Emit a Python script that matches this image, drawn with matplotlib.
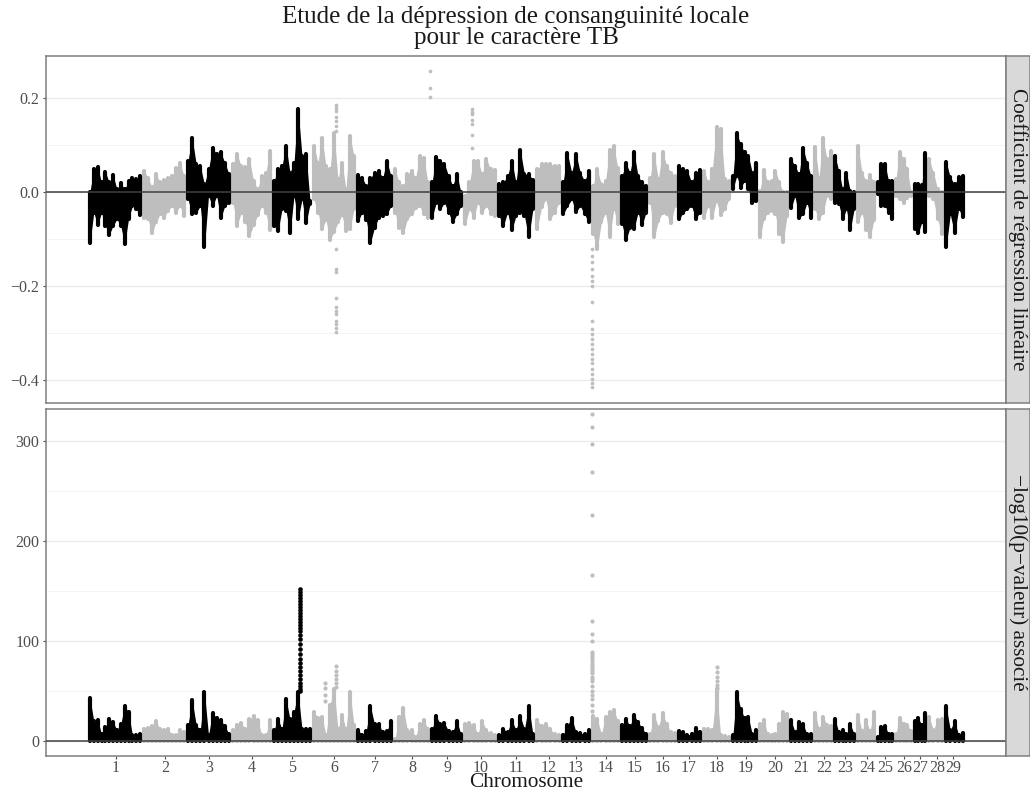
import matplotlib
matplotlib.use('Agg')
import matplotlib.pyplot as plt
import numpy as np

plt.rcParams['font.family'] = ['Liberation Serif', 'DejaVu Serif']

# chromosome limits along the genome axis (cumulative position)
chrom_edges = [0, 54, 98, 143, 184, 224, 268, 305, 342, 375, 409, 447, 473, 503, 532,
               560, 589, 614, 643, 670, 701, 725, 745, 768, 788, 806, 825, 839, 856, 877]
tick_pos = [28, 77, 121, 164, 204, 246, 287, 324, 359, 393, 428, 461, 488, 518, 547,
            575, 601, 629, 658, 687, 713, 736, 757, 779, 797, 816, 832, 849, 865]
tick_labels = [str(i) for i in range(1, 30)]

# upper and lower edge of the cloud of points, read along each chromosome
coef_hi = [
    [.000, .048, .052, .020, .043, .020, .035, .006, .018, .006, .023, .030, .028, .034],
    [.045, .030, .010, .038, .020, .025, .030, .034, .050, .062, .034],
    [.066, .115, .059, .055, .016, .048, .094, .080, .084, .062, .038],
    [.059, .080, .055, .052, .070, .023, .006, .034, .041, .087],
    [.023, .048, .055, .098, .041, .062, .177, .077, .080, -.019],
    [.098, .062, .115, .055, .048, .126, .027, .062, .006, .119, .076],
    [.035, .030, .013, .030, .040, .045, .030, .066, .034],
    [.048, .020, .012, .038, .045, .030, .077, .073, .020],
    [.020, .075, .066, .060, .034, .013, .038, -.001],
    [-.008, .020, .066, .066, .038, .070, .048, .047],
    [.016, .020, .034, .066, .020, .089, .038, .038, .026],
    [.048, .059, .059, .060, .055, .055],
    [.020, .082, .041, .081, .041, .023, .045],
    [.013, .048, .016, .023, .090, .098, .050],
    [.034, .061, .041, .084, .034, .020, .013],
    [.030, .080, .027, .085, .056, .041, .034],
    [.055, .048, .045, .020, .041, .047],
    [.045, .020, .048, .138, .133, .028, .024],
    [.034, .125, .101, .084, .077, .041, .061],
    [.002, .047, .020, .023, .045, .020, -.001, .000],
    [.070, .055, .038, .094, .062, .034],
    [.096, .030, .114, .070, .087],
    [.077, .045, .006, .041, .002, -.001],
    [.098, .041, .023, .035, .020],
    [.020, .060, .059, .023, .023],
    [.027, .084, .070, .048, -.001],
    [.016, .016, .014, .082],
    [.070, .041, .006, -.001],
    [.064, .031, .016, .031, .034],
]
coef_lo = [
    [-.109, -.044, -.070, -.044, -.072, -.091, -.072, -.058, -.072, -.111, -.058, -.030, -.037, -.050],
    [-.055, -.058, -.087, -.065, -.048, -.055, -.040, -.030, -.044, -.030, -.051],
    [-.016, -.048, -.044, -.030, -.118, -.009, -.030, -.009, -.055, -.030, -.023],
    [-.023, -.072, -.044, -.065, -.094, -.070, -.050, -.030, -.045, -.080],
    [-.072, -.083, -.037, -.040, -.088, -.009, -.058, -.016, -.067, -.026],
    [-.016, -.044, -.079, -.060, -.102, -.085, -.065, -.050, -.083, -.079, -.037],
    [-.062, -.044, -.060, -.108, -.076, -.055, -.051, -.048, -.030],
    [-.044, -.076, -.088, -.058, -.048, -.035, -.030, -.048, -.056],
    [-.055, -.023, -.037, -.023, -.044, -.065, -.048, -.030],
    [-.069, -.037, -.055, -.023, -.044, -.030, -.048, -.051],
    [-.051, -.072, -.044, -.081, -.051, -.044, -.051, -.097, -.037],
    [-.079, -.033, -.016, -.057, -.044, -.023],
    [-.048, -.030, -.016, -.043, -.030, -.048, -.065],
    [-.090, -.121, -.065, -.044, -.097, -.037, -.069],
    [-.069, -.102, -.076, -.079, -.044, -.071, -.044],
    [-.023, -.097, -.062, -.044, -.048, -.067, -.030],
    [-.058, -.044, -.037, -.030, -.057, -.044],
    [-.055, -.030, -.055, -.020, -.050, -.037, -.016],
    [.006, .034, .009, .023, .006, -.023, -.019],
    [-.097, -.058, -.044, -.040, -.048, -.090, -.106, -.051],
    [-.035, -.009, -.055, -.048, -.023, -.055],
    [-.037, -.058, -.044, -.009, -.016],
    [-.023, -.026, -.058, -.037, -.081, -.037],
    [-.065, -.044, -.080, -.097, -.060],
    [-.005, -.030, -.030, -.044, -.057],
    [-.009, -.016, -.023, -.012, -.009],
    [-.079, -.088, -.065, -.085],
    [-.009, -.016, -.058, -.090],
    [-.118, -.048, -.088, -.037, -.053],
]
logp_peak = [
    [43, 20, 21, 7, 14, 22, 19, 11, 17, 35, 29, 6, 6, 7],
    [12, 13, 15, 20, 12, 11, 12, 6, 6, 11, 9],
    [16, 41, 16, 11, 49, 6, 28, 23, 21, 15, 7],
    [11, 16, 18, 12, 22, 25, 21, 6, 6, 21],
    [11, 22, 12, 42, 22, 29, 49, 12, 12, 12],
    [29, 23, 24, 6, 36, 52, 12, 26, 12, 49, 16],
    [11, 6, 10, 35, 17, 17, 9, 10, 20],
    [2, 24, 33, 11, 11, 4, 17, 21, 12],
    [12, 25, 17, 18, 10, 9, 20, 7],
    [17, 18, 16, 7, 20, 11, 8, 6],
    [6, 12, 9, 21, 11, 25, 12, 35, 7],
    [21, 15, 17, 12, 7, 6],
    [6, 16, 23, 9, 8, 7, 11],
    [25, 22, 7, 24, 29, 31, 20],
    [16, 22, 15, 26, 19, 13, 7],
    [7, 26, 14, 28, 17, 9, 8],
    [10, 9, 6, 7, 13, 9],
    [12, 12, 11, 52, 6, 5, 4],
    [6, 49, 32, 23, 24, 7, 11],
    [17, 21, 7, 6, 7, 17, 29, 27],
    [21, 9, 19, 17, 7, 7],
    [28, 12, 24, 16, 15],
    [22, 9, 11, 7, 17, 7],
    [26, 10, 21, 10, 29],
    [4, 14, 15, 7, 7],
    [7, 23, 17, 16, 10],
    [20, 23, 16, 28],
    [24, 11, 21, 22],
    [35, 11, 20, 6, 8],
]

# isolated points above or below the clouds
coef_out_x = [248] * 18 + [342] * 3 + [384] * 7 + [504] * 22
coef_out_y = [.185, .178, .172, .160, .150, .140, .130, -.122, -.165, -.170, -.225, -.244,
              -.253, -.260, -.275, -.282, -.290, -.298,
              .257, .222, .202,
              .176, .170, .165, .153, .144, .120, .094,
              -.122, -.136, -.150, -.165, -.179, -.190, -.200, -.235, -.274, -.292, -.303,
              -.313, -.324, -.335, -.345, -.356, -.363, -.377, -.388, -.399, -.406, -.414]
logp_peak5_x = [212] * 30
logp_peak5_y = [152, 149, 146, 143, 140, 137, 134, 131, 128, 125, 122, 119, 116, 113, 110, 106,
                102, 97, 92, 87, 82, 78, 74, 70, 66, 62, 58, 55, 52, 50]
logp_out_x = [237] * 4 + [248] * 6 + [629] * 6 + [504] * 29
logp_out_y = [58, 53, 46, 40,
              75, 70, 66, 62, 58, 54,
              74, 69, 64, 60, 56, 53,
              327, 314, 297, 269, 226, 166, 120, 107, 100, 89, 87, 85, 83, 81, 78, 76, 74,
              72, 70, 68, 64, 62, 60, 55, 50, 46, 42, 36, 30]

black = '#000000'
grey = '#bebebe'
border = '#7f7f7f'

fig = plt.figure(figsize=(10.3, 7.96), dpi=100)
ax1 = fig.add_axes([45.5 / 1030, 1 - 403 / 796, 960.5 / 1030, 347 / 796])
ax2 = fig.add_axes([45.5 / 1030, 1 - 756 / 796, 960.5 / 1030, 347 / 796])

for i in range(29):
    col = black if i % 2 == 0 else grey
    z = 3.5 if i % 2 == 0 else 3
    width = chrom_edges[i + 1] - chrom_edges[i]
    n = len(coef_hi[i])
    x = chrom_edges[i] + (np.arange(n) + 0.5) * width / n
    ax1.fill_between(x, coef_lo[i], coef_hi[i], color=col, lw=0, zorder=z)
    ax1.vlines(x, coef_lo[i], coef_hi[i], color=col, lw=3.0, capstyle='round', zorder=z)
    n = len(logp_peak[i])
    x = chrom_edges[i] + (np.arange(n) + 0.5) * width / n
    ax2.fill_between(x, 0, logp_peak[i], color=col, lw=0, zorder=z)
    ax2.vlines(x, 0, logp_peak[i], color=col, lw=3.0, capstyle='round', zorder=z)

ax1.scatter(coef_out_x, coef_out_y, s=7, color=grey, lw=0, zorder=3)
ax2.scatter(logp_peak5_x, logp_peak5_y, s=11, color=black, lw=0, zorder=3.5)
ax2.scatter(logp_out_x, logp_out_y, s=9, color=grey, lw=0, zorder=3)

ax1.set_ylim(-0.449, 0.289)
ax2.set_ylim(-15, 332)
ax1.set_yticks([-0.4, -0.2, 0.0, 0.2])
ax1.set_yticklabels(['\u22120.4', '\u22120.2', '0.0', '0.2'])
ax1.set_yticks([-0.3, -0.1, 0.1], minor=True)
ax2.set_yticks([0, 100, 200, 300])
ax2.set_yticks([50, 150, 250], minor=True)

for ax in (ax1, ax2):
    ax.set_xlim(-42.5, 918)
    ax.axhline(0, color='#404040', lw=1.1, zorder=4)
    ax.grid(True, axis='y', which='major', color='#ebebeb', lw=1.0, zorder=0)
    ax.grid(True, axis='y', which='minor', color='#f3f3f3', lw=0.7, zorder=0)
    ax.set_axisbelow(True)
    ax.tick_params(axis='y', which='major', labelsize=11.5, colors='#4d4d4d', length=2.5, width=0.8, pad=2)
    ax.tick_params(axis='y', which='minor', length=0)
    for s in ax.spines.values():
        s.set_color(border)
        s.set_linewidth(1.1)

ax1.tick_params(axis='x', bottom=False, labelbottom=False)
ax2.set_xticks(tick_pos)
ax2.set_xticklabels(tick_labels)
ax2.tick_params(axis='x', labelsize=11.5, colors='#4d4d4d', length=2.5, width=0.8, pad=0.5)
ax2.set_xlabel('Chromosome', fontsize=15.3, labelpad=-2.5, color='#1a1a1a')

fig.text(516 / 1030, 1 - 17 / 796, 'Etude de la dépression de consanguinité locale',
         ha='center', va='center', fontsize=18, color='#1a1a1a')
fig.text(516 / 1030, 1 - 38 / 796, 'pour le caractère TB',
         ha='center', va='center', fontsize=18, color='#1a1a1a')

# strips on the right of each panel
strip_texts = ['Coefficient de régression linéaire', '\u2212log10(p\u2212valeur) associé']
for ax, label, top in zip((ax1, ax2), strip_texts, (56, 409)):
    strip = fig.add_axes([1006 / 1030, 1 - (top + 347) / 796, 24 / 1030, 347 / 796])
    strip.set_facecolor('#d9d9d9')
    strip.set_xticks([])
    strip.set_yticks([])
    for s in strip.spines.values():
        s.set_color(border)
        s.set_linewidth(1.1)
    strip.text(0.5, 0.5, label, rotation=-90, ha='center', va='center', fontsize=15.3,
               color='#1a1a1a', transform=strip.transAxes)

plt.savefig('out.png', dpi=100)
